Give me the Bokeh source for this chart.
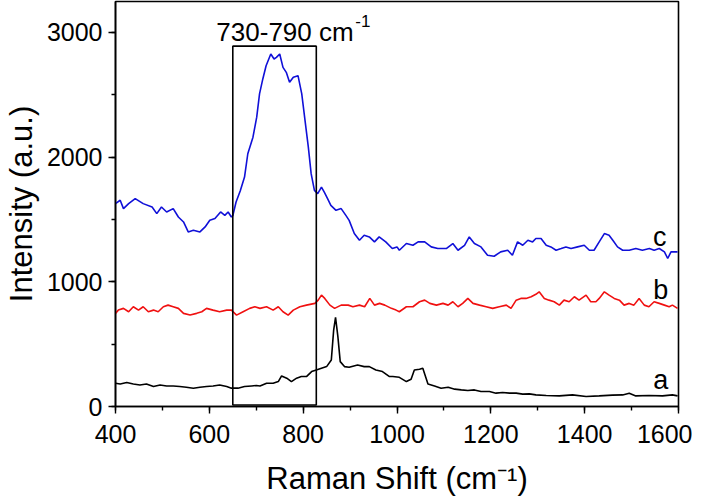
from bokeh.plotting import figure
from bokeh.models import Range1d, SingleIntervalTicker, Label
from bokeh.embed import file_html
from bokeh.resources import INLINE

# ---- data ----
x_c = [400, 410, 417, 428, 442, 459, 478, 488, 498, 509, 523, 534, 545, 555, 566, 580, 591, 601, 612, 624,
       633, 640, 647, 650, 657, 666, 675, 682, 693, 701, 707, 714, 721, 731, 738, 743, 750, 757, 764, 771,
       779, 789, 797, 804, 811, 817, 824, 831, 839, 845, 852, 859, 870, 881, 891, 898, 909, 920, 930, 941,
       952, 962, 976, 990, 1000, 1005, 1020, 1034, 1045, 1059, 1073, 1087, 1105, 1119, 1130, 1144, 1154,
       1165, 1179, 1193, 1207, 1221, 1236, 1246, 1257, 1268, 1279, 1289, 1296, 1307, 1318, 1328, 1339,
       1350, 1360, 1371, 1385, 1399, 1410, 1420, 1431, 1442, 1452, 1460, 1470, 1481, 1495, 1509, 1523,
       1538, 1548, 1559, 1570, 1577, 1584, 1598]
y_c = [1627, 1654, 1587, 1627, 1667, 1627, 1600, 1547, 1600, 1560, 1587, 1520, 1480, 1400, 1413, 1400, 1440,
       1493, 1507, 1560, 1533, 1560, 1520, 1530, 1640, 1730, 1840, 2027, 2160, 2320, 2507, 2627, 2733, 2827,
       2787, 2800, 2827, 2720, 2680, 2600, 2640, 2653, 2507, 2293, 2080, 1867, 1733, 1707, 1760, 1720, 1667,
       1613, 1573, 1587, 1533, 1493, 1387, 1333, 1373, 1360, 1320, 1360, 1320, 1267, 1280, 1253, 1307, 1293,
       1320, 1320, 1280, 1267, 1267, 1307, 1253, 1293, 1360, 1307, 1280, 1213, 1205, 1240, 1253, 1213, 1320,
       1293, 1333, 1320, 1347, 1347, 1293, 1280, 1253, 1267, 1280, 1267, 1280, 1293, 1253, 1253, 1320, 1387,
       1373, 1333, 1280, 1253, 1253, 1267, 1253, 1267, 1253, 1267, 1240, 1187, 1240, 1240]

x_b = [400, 406, 417, 428, 438, 449, 459, 470, 481, 491, 502, 512, 523, 534, 545, 559, 573, 584, 594, 608,
       622, 637, 647, 658, 672, 686, 697, 708, 722, 736, 747, 757, 768, 779, 793, 807, 825, 832, 839, 846,
       857, 867, 881, 896, 906, 920, 931, 942, 952, 963, 974, 988, 998, 1005, 1020, 1034, 1048, 1059, 1070,
       1084, 1098, 1109, 1119, 1130, 1140, 1151, 1162, 1176, 1190, 1204, 1218, 1233, 1243, 1254, 1264, 1275,
       1286, 1296, 1303, 1314, 1324, 1335, 1346, 1356, 1367, 1378, 1388, 1403, 1413, 1424, 1431, 1442, 1452,
       1463, 1474, 1484, 1495, 1505, 1516, 1527, 1537, 1548, 1559, 1570, 1580, 1587, 1598]
y_b = [747, 773, 787, 760, 800, 773, 800, 760, 773, 760, 800, 813, 800, 787, 747, 733, 747, 760, 787, 773,
       760, 773, 773, 733, 760, 787, 800, 787, 800, 773, 800, 760, 733, 773, 800, 813, 827, 853, 893, 867,
       813, 787, 813, 813, 800, 813, 800, 867, 813, 827, 813, 787, 773, 760, 800, 800, 840, 853, 827,
       813, 827, 813, 840, 800, 827, 867, 827, 813, 800, 787, 800, 813, 787, 853, 867, 867,
       880, 900, 920, 867, 853, 840, 813, 853, 840, 880, 853, 893, 840, 840, 867, 920, 893,
       867, 853, 813, 827, 813, 867, 813, 800, 840, 827, 813, 800, 813, 787]

x_a = [400, 410, 424, 438, 452, 466, 481, 495, 509, 523, 537, 551, 566, 580, 594, 608, 622, 637, 647, 661,
       675, 690, 700, 708, 722, 736, 747, 754, 765, 775, 786, 796, 807, 818, 828, 839, 850, 860, 865, 869,
       874, 879, 888, 898, 916, 930, 941, 955, 969, 984, 991, 1005, 1020, 1030, 1037, 1048, 1055, 1066,
       1080, 1094, 1109, 1123, 1137, 1151, 1165, 1179, 1197, 1211, 1225, 1240, 1254, 1268, 1282, 1296,
       1318, 1346, 1374, 1403, 1431, 1459, 1481, 1495, 1509, 1537, 1566, 1587, 1598]
y_a = [187, 181, 192, 181, 173, 181, 160, 173, 165, 165, 160, 155, 147, 155, 160, 165, 173, 160, 147, 147,
       160, 165, 168, 165, 187, 187, 200, 245, 227, 200, 227, 240, 240, 280, 293, 307, 320, 373, 613, 715,
       560, 360, 320, 315, 333, 320, 320, 293, 280, 240, 240, 234, 200, 219, 293, 299, 307, 181,
       165, 147, 155, 139, 133, 128, 133, 120, 120, 107, 112, 107, 107, 99, 101, 93,
       88, 85, 93, 80, 85, 91, 93, 107, 85, 88, 85, 93, 85]

box_x = [650, 828]
box_y = [12, 2890]

x_ticks_interval = 200
y_ticks_interval = 1000

FONT = "Liberation Sans"

p = figure(width=692, height=498, output_backend="svg", toolbar_location=None,
           x_range=Range1d(400, 1600), y_range=Range1d(0, 3248),
           min_border_left=114, min_border_right=14, min_border_top=1, min_border_bottom=91)
p.background_fill_color = "white"
p.border_fill_color = "white"
p.outline_line_color = "black"
p.outline_line_width = 1.6
p.xgrid.visible = False
p.ygrid.visible = False

p.xaxis.ticker = SingleIntervalTicker(interval=x_ticks_interval, num_minor_ticks=2)
p.yaxis.ticker = SingleIntervalTicker(interval=y_ticks_interval, num_minor_ticks=2)
for ax in (p.xaxis[0], p.yaxis[0]):
    ax.axis_line_color = "black"
    ax.axis_line_width = 1.6
    ax.major_tick_line_color = "black"
    ax.major_tick_line_width = 1.4
    ax.minor_tick_line_color = "black"
    ax.minor_tick_line_width = 1.4
    ax.major_tick_in = 0
    ax.major_tick_out = 7
    ax.minor_tick_in = 0
    ax.minor_tick_out = 4
    ax.major_label_text_font = FONT
    ax.major_label_text_font_size = "25px"
    ax.major_label_text_color = "black"
    ax.axis_label_text_font = FONT
    ax.axis_label_text_font_style = "normal"
    ax.axis_label_text_color = "black"
    ax.axis_label_text_font_size = "31px"

p.xaxis.major_label_standoff = 11
p.yaxis.major_label_standoff = 6
p.xaxis.axis_label = "Raman Shift (cm\u207b\u00b9)"
p.yaxis.axis_label = "Intensity (a.u.)"
p.xaxis.axis_label_standoff = 15
p.yaxis.axis_label_standoff = 5

p.line(x_a, y_a, line_color="black", line_width=1.6)
p.line(x_b, y_b, line_color="#f01010", line_width=1.6)
p.line(x_c, y_c, line_color="#1010d8", line_width=1.6)

p.quad(left=[box_x[0]], right=[box_x[1]], bottom=[box_y[0]], top=[box_y[1]],
       fill_alpha=0, line_color="black", line_width=1.6)

p.add_layout(Label(x=615, y=3000, text="730-790 cm", text_font=FONT, text_font_size="26px",
                   text_color="black", text_align="left", text_baseline="alphabetic"))
p.add_layout(Label(x=615, y=3000, x_offset=139, y_offset=11, text="-1", text_font=FONT,
                   text_font_size="17px", text_color="black", text_align="left",
                   text_baseline="alphabetic"))

for txt, lx, ly in (("c", 1560, 1360), ("b", 1562, 933), ("a", 1562, 213)):
    p.add_layout(Label(x=lx, y=ly, text=txt, text_font=FONT, text_font_size="27px",
                       text_color="black", text_align="center", text_baseline="middle"))

open("out.html", "w").write(file_html(p, INLINE))
